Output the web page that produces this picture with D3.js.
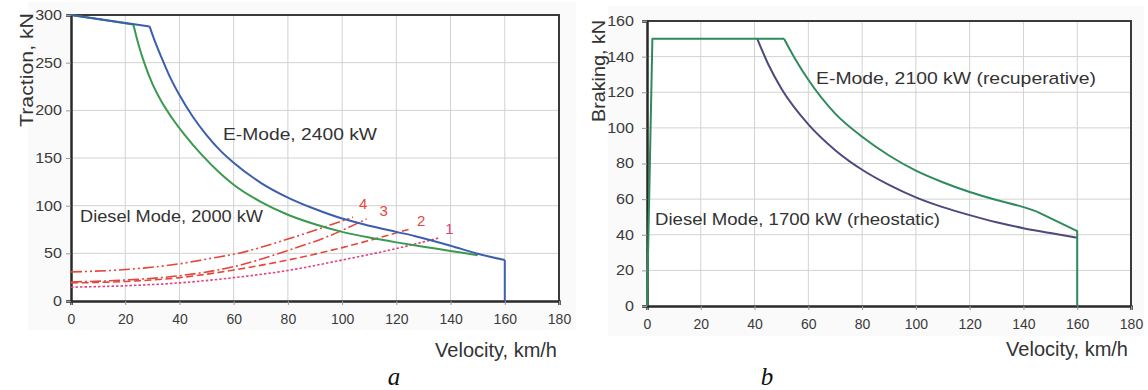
<!DOCTYPE html>
<html>
<head>
<meta charset="utf-8">
<script src="https://cdn.jsdelivr.net/npm/d3@7"></script>
<style>
  body { margin: 0; background: #fff; }
  svg { display: block; font-family: "Liberation Sans", Arial, sans-serif; }
</style>
</head>
<body>
<svg id="chart" width="1148" height="390"></svg>
<script>
// ---- data: traction (panel a) ----
const velocityTicks = [0, 20, 40, 60, 80, 100, 120, 140, 160, 180];
const tractionTicks = [0, 50, 100, 150, 200, 250, 300];
const brakingTicks = [0, 20, 40, 60, 80, 100, 120, 140, 160];

const eModeTop = [[0, 300], [29, 288]];
const eModeCurve = [[29, 288], [31, 272], [33, 258], [36, 238], [40, 216], [45, 193], [50, 174], [55, 158],
  [60, 145], [70, 124], [80, 108.5], [90, 96.5], [100, 86.5], [110, 79], [120, 72.5], [127, 68], [140, 58],
  [150, 49.5], [160, 43]];
const eModeDrop = [[160, 43], [160, 0]];

const dieselTop = [[0, 300], [23, 290]];
const dieselCurve = [[23, 290], [25, 268], [27, 250], [30, 228], [33, 211], [37, 193], [42, 174], [48, 154],
  [55, 134], [60, 122], [70, 104], [80, 90.5], [90, 80.5], [100, 72.5], [110, 66.5], [120, 61.5], [130, 57],
  [140, 52.5], [150, 48]];

const resist4 = [[0, 30.5], [20, 33], [40, 39], [55, 46.5], [60, 49], [80, 65], [104, 88]];
const resist3 = [[0, 20], [20, 22], [40, 26.5], [60, 36], [80, 53], [95, 68], [109, 86]];
const resist2 = [[0, 19], [20, 20.5], [40, 24.5], [60, 32.5], [80, 43], [100, 56], [125, 75.5]];
const resist1 = [[0, 14.5], [20, 16], [40, 19], [60, 24.5], [80, 32], [100, 43], [120, 55], [135.5, 66]];
const resistNames = ["1", "2", "3", "4"];

// ---- data: braking (panel b) ----
const recupRise = [[0, 0], [2, 150], [51, 150]];
const recupCurve = [[51, 150], [55, 139], [60, 127], [70, 108], [80, 95], [90, 84.5], [100, 76], [110, 69.5],
  [120, 64], [130, 59.5], [140, 55.5], [145, 53]];
const recupTail = [[145, 53], [160, 42], [160, 0]];
const rheoCurve = [[41, 150], [45, 136], [50, 122], [60, 102], [70, 87.5], [80, 76.5], [90, 68], [100, 61],
  [110, 55.5], [120, 51], [130, 47], [140, 43.7], [150, 41], [160, 38.3]];

const svg = d3.select("#chart");

// faint panel backgrounds of the scanned figure
svg.append("rect").attr("x", 28).attr("y", 2).attr("width", 548).attr("height", 328).attr("fill", "#fafafa");
svg.append("rect").attr("x", 608).attr("y", 6).attr("width", 536).attr("height", 330).attr("fill", "#fafafa");

function panel(opts) {
  const x = d3.scaleLinear().domain([0, 180]).range(opts.xr);
  const y = d3.scaleLinear().domain(opts.yd).range(opts.yr);
  const g = svg.append("g");

  g.append("rect").attr("x", opts.xr[0]).attr("y", opts.yr[1])
    .attr("width", opts.xr[1] - opts.xr[0]).attr("height", opts.yr[0] - opts.yr[1]).attr("fill", "#fff");

  // grid
  g.append("g").selectAll("line").data(velocityTicks.slice(1, -1)).join("line")
    .attr("x1", d => x(d)).attr("x2", d => x(d)).attr("y1", opts.yr[0]).attr("y2", opts.yr[1])
    .attr("stroke", "#d2d2d2").attr("stroke-width", 1);
  g.append("g").selectAll("line").data(opts.yTicks.slice(1, -1)).join("line")
    .attr("y1", d => y(d)).attr("y2", d => y(d)).attr("x1", opts.xr[0]).attr("x2", opts.xr[1])
    .attr("stroke", "#d2d2d2").attr("stroke-width", 1);

  // frame top / right
  g.append("path")
    .attr("d", `M${opts.xr[0]},${opts.yr[1]}H${opts.xr[1]}V${opts.yr[0]}`)
    .attr("fill", "none").attr("stroke", "#3a3a3a").attr("stroke-width", 2);

  const xAxis = g.append("g").attr("transform", `translate(0,${opts.yr[0]})`)
    .call(d3.axisBottom(x).tickValues(velocityTicks).tickSize(4).tickPadding(9));
  const yAxis = g.append("g").attr("transform", `translate(${opts.xr[0]},0)`)
    .call(d3.axisLeft(y).tickValues(opts.yTicks).tickSize(5).tickPadding(opts.yPad));
  [xAxis, yAxis].forEach(a => {
    a.select(".domain").attr("stroke", "#2a2a2a").attr("stroke-width", 2.5);
    a.selectAll(".tick line").attr("stroke", "#999");
    a.selectAll("text").attr("font-size", 14).attr("fill", "#3a3a3a")
      .attr("font-family", "'Liberation Sans', Arial, sans-serif");
  });
  yAxis.selectAll("text").each(function () {
    this.setAttribute("textLength", this.getComputedTextLength() * 1.15);
    this.setAttribute("lengthAdjust", "spacingAndGlyphs");
  });

  return { g, x, y };
}

function draw(p, data, color, curve, dash, width) {
  p.g.append("path").datum(data)
    .attr("d", d3.line().x(d => p.x(d[0])).y(d => p.y(d[1])).curve(curve))
    .attr("fill", "none").attr("stroke", color).attr("stroke-width", width || 2)
    .attr("stroke-dasharray", dash || null).attr("stroke-linejoin", "round");
}

function label(p, txt, x, y, size, len, color) {
  p.g.append("text").attr("x", x).attr("y", y).text(txt)
    .attr("font-size", size).attr("fill", color || "#333")
    .attr("textLength", len).attr("lengthAdjust", "spacingAndGlyphs");
}

// ---- panel a ----
const pa = panel({ xr: [71, 559], yd: [0, 300], yr: [301, 15], yTicks: tractionTicks, yPad: 4 });
const RED = "#e6463c";
draw(pa, resist1, "#e2407c", d3.curveMonotoneX, "2.5,2", 1.6);
draw(pa, resist2, RED, d3.curveMonotoneX, "7,3.5", 1.6);
draw(pa, resist3, RED, d3.curveMonotoneX, "11,3,2,3", 1.6);
draw(pa, resist4, RED, d3.curveMonotoneX, "11,3,2,3,2,3", 1.6);
draw(pa, dieselTop, "#3a9a4e", d3.curveLinear);
draw(pa, dieselCurve, "#3a9a4e", d3.curveMonotoneX);
draw(pa, eModeTop, "#3b5fae", d3.curveLinear);
draw(pa, eModeCurve, "#3b5fae", d3.curveMonotoneX);
draw(pa, eModeDrop, "#3b5fae", d3.curveLinear);

const resistEnds = [resist1, resist2, resist3, resist4];
pa.g.append("g").selectAll("text").data(resistEnds).join("text")
  .attr("x", (d, i) => pa.x(d[d.length - 1][0]) + [7, 7, 13, 6][i])
  .attr("y", (d, i) => pa.y(d[d.length - 1][1]) + [-4, -3, -3, -8][i])
  .text((d, i) => resistNames[i])
  .attr("font-size", 15).attr("fill", (d, i) => i === 0 ? "#e2407c" : RED);

label(pa, "E-Mode, 2400 kW", 223, 140, 17, 154);
label(pa, "Diesel Mode, 2000 kW", 80, 222, 17, 183);

svg.append("text").attr("transform", "translate(33,70) rotate(-90)").attr("text-anchor", "middle")
  .attr("font-size", 19).attr("fill", "#333").text("Traction, kN")
  .attr("textLength", 114).attr("lengthAdjust", "spacingAndGlyphs");
svg.append("text").attr("x", 557).attr("y", 357).attr("text-anchor", "end")
  .attr("font-size", 20).attr("fill", "#333").text("Velocity, km/h");
svg.append("text").attr("x", 394).attr("y", 385).attr("text-anchor", "middle")
  .attr("font-family", "'Liberation Serif', 'Times New Roman', serif").attr("font-style", "italic")
  .attr("font-size", 25).attr("fill", "#111").text("a");

// ---- panel b ----
const pb = panel({ xr: [647, 1131], yd: [0, 160], yr: [306, 21], yTicks: brakingTicks, yPad: 8 });
draw(pb, rheoCurve, "#4b4a7e", d3.curveMonotoneX);
draw(pb, recupRise, "#2f8a5c", d3.curveLinear);
draw(pb, recupCurve, "#2f8a5c", d3.curveMonotoneX);
draw(pb, recupTail, "#2f8a5c", d3.curveLinear);

label(pb, "E-Mode, 2100 kW (recuperative)", 816, 84, 17, 280);
label(pb, "Diesel Mode, 1700 kW (rheostatic)", 655, 225, 17, 285);

svg.append("text").attr("transform", "translate(605,71) rotate(-90)").attr("text-anchor", "middle")
  .attr("font-size", 19).attr("fill", "#333").text("Braking, kN")
  .attr("textLength", 102).attr("lengthAdjust", "spacingAndGlyphs");
svg.append("text").attr("x", 1128).attr("y", 356).attr("text-anchor", "end")
  .attr("font-size", 20).attr("fill", "#333").text("Velocity, km/h");
svg.append("text").attr("x", 767).attr("y", 385).attr("text-anchor", "middle")
  .attr("font-family", "'Liberation Serif', 'Times New Roman', serif").attr("font-style", "italic")
  .attr("font-size", 25).attr("fill", "#111").text("b");
</script>
</body>
</html>
